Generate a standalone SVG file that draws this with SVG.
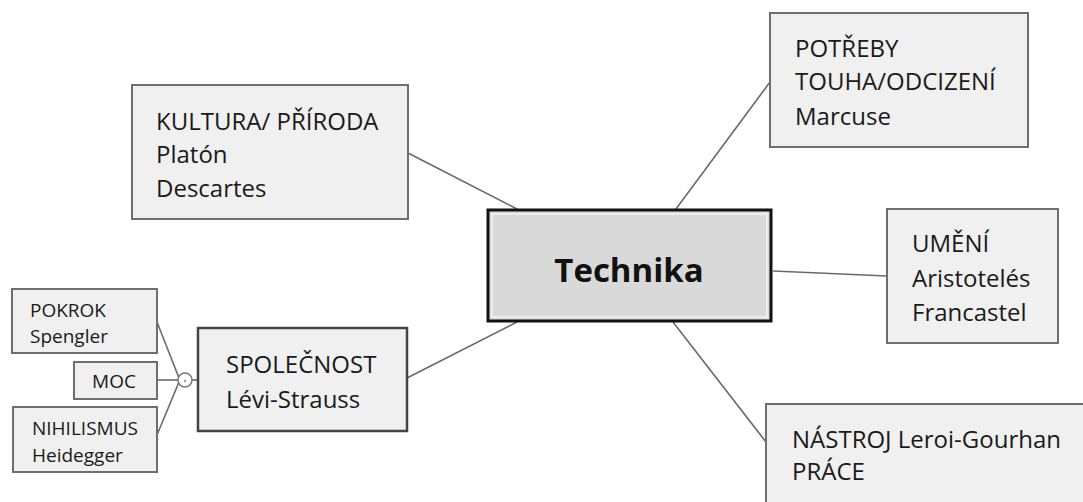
<svg xmlns="http://www.w3.org/2000/svg" width="1083" height="502" viewBox="0 0 1083 502">
<style>
.box{fill:#f0f0f0;stroke:#6e6e6e;stroke-width:2}
.t{font-family:"Open Sans","Liberation Sans",sans-serif;font-size:24px;fill:#1a1a1a}
.s{font-family:"Open Sans","Liberation Sans",sans-serif;font-size:19px;fill:#1a1a1a}
.c{stroke:#6a6a6a;stroke-width:1.6;fill:none}
</style>
<rect width="1083" height="502" fill="#ffffff"/>
<g id="connectors">
<line class="c" x1="408" y1="153" x2="517" y2="209"/>
<line class="c" x1="676" y1="209" x2="770" y2="82"/>
<line class="c" x1="773" y1="271" x2="887" y2="276"/>
<line class="c" x1="673" y1="322" x2="766" y2="442"/>
<line class="c" x1="517" y1="322" x2="407" y2="378"/>
<line class="c" x1="192" y1="380" x2="198" y2="380"/>
<line class="c" x1="157" y1="322" x2="179" y2="378"/>
<line class="c" x1="157" y1="380" x2="178" y2="380"/>
<line class="c" x1="157" y1="435" x2="179" y2="382"/>
<circle cx="185" cy="380" r="7" fill="#fff" stroke="#777" stroke-width="1.5"/>
<line x1="184" y1="381" x2="186" y2="381" stroke="#777" stroke-width="1.5"/>
</g>
<g id="technika">
<rect x="488" y="210" width="283" height="111" fill="#d9d9d9" stroke="#111" stroke-width="3"/>
<rect x="492" y="214" width="275" height="103" fill="none" stroke="#ececec" stroke-width="2"/>
<text x="629" y="282" text-anchor="middle" font-family="'Open Sans','Liberation Sans',sans-serif" font-size="33" font-weight="bold" fill="#111">Technika</text>
</g>
<g id="kultura">
<rect class="box" x="132" y="85" width="276" height="134"/>
<text class="t" x="156" y="130">KULTURA/ PŘÍRODA</text>
<text class="t" x="156" y="163">Platón</text>
<text class="t" x="156" y="197">Descartes</text>
</g>
<g id="potreby">
<rect class="box" x="770" y="13" width="258" height="134"/>
<text class="t" x="795" y="57">POTŘEBY</text>
<text class="t" x="795" y="90">TOUHA/ODCIZENÍ</text>
<text class="t" x="795" y="125">Marcuse</text>
</g>
<g id="umeni">
<rect class="box" x="887" y="209" width="171" height="134"/>
<text class="t" x="912" y="252">UMĚNÍ</text>
<text class="t" x="912" y="287">Aristotelés</text>
<text class="t" x="912" y="321">Francastel</text>
</g>
<g id="nastroj">
<rect class="box" x="766" y="404" width="320" height="110"/>
<text class="t" x="792" y="448">NÁSTROJ Leroi-Gourhan</text>
<text class="t" x="792" y="480">PRÁCE</text>
</g>
<g id="spolecnost">
<rect x="198" y="328" width="209" height="103" fill="#f0f0f0" stroke="#444" stroke-width="2.5"/>
<text class="t" x="226" y="373">SPOLEČNOST</text>
<text class="t" x="226" y="408">Lévi-Strauss</text>
</g>
<g id="pokrok">
<rect class="box" x="12" y="289" width="145" height="64"/>
<text class="s" x="30" y="317">POKROK</text>
<text class="s" x="30" y="343">Spengler</text>
</g>
<g id="moc">
<rect class="box" x="74" y="362" width="83" height="37"/>
<text class="s" x="114" y="388" text-anchor="middle">MOC</text>
</g>
<g id="nihilismus">
<rect class="box" x="13" y="407" width="144" height="65"/>
<text class="s" x="32" y="435">NIHILISMUS</text>
<text class="s" x="32" y="462">Heidegger</text>
</g>
</svg>
